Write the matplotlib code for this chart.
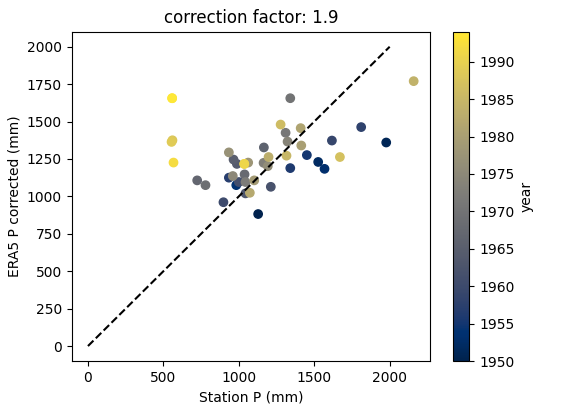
import numpy as np
import matplotlib
matplotlib.use('Agg')
import matplotlib.pyplot as plt

# Station vs corrected ERA5 annual precipitation (mm)
years = [1950, 1951, 1952, 1953, 1954, 1955, 1956, 1957, 1958, 1959,
         1960, 1961, 1962, 1963, 1964, 1965, 1966, 1967, 1968, 1969,
         1970, 1971, 1972, 1973, 1974, 1975, 1976, 1977, 1978, 1979,
         1980, 1981, 1982, 1983, 1984, 1985, 1986, 1987, 1988, 1989,
         1990, 1991, 1992, 1993, 1994]
station_p = [1128, 1977, 1526, 1568, 983, 1451, 1341, 934, 1811, 1617,
             898, 1000, 1212, 1044, 987, 965, 1166, 724, 1038, 779,
             1341, 1310, 1044, 1164, 1323, 960, 1192, 934, 1062, 1102,
             1414, 1410, 1073, 1197, 2159, 1316, 1277, 1670, 560, 554,
             1036, 1036, 567, 558, 558]
era5_p = [882, 1360, 1230, 1184, 1075, 1276, 1189, 1125, 1463, 1373,
          961, 1096, 1064, 1020, 1217, 1246, 1327, 1107, 1147, 1075,
          1656, 1425, 1096, 1224, 1366, 1136, 1202, 1294, 1226, 1107,
          1340, 1456, 1024, 1263, 1770, 1272, 1480, 1263, 1375, 1364,
          1217, 1217, 1226, 1656, 1656]


def main():
    fig = plt.figure(figsize=(5.79, 4.04), dpi=100)
    ax = fig.add_axes([0.1238, 0.1064, 0.6188, 0.815])
    cax = fig.add_axes([0.7819, 0.1064, 0.0287, 0.815])

    sc = ax.scatter(station_p, era5_p, c=years, cmap='cividis',
                    vmin=1950, vmax=1994)
    ax.plot([0, 2000], [0, 2000], 'k--')

    ax.set_xlabel('Station P (mm)')
    ax.set_ylabel('ERA5 P corrected (mm)')
    ax.set_title('correction factor: 1.9')

    cb = fig.colorbar(sc, cax=cax)
    cb.set_label('year')

    fig.savefig('out.png', dpi=100)


if __name__ == '__main__':
    main()
